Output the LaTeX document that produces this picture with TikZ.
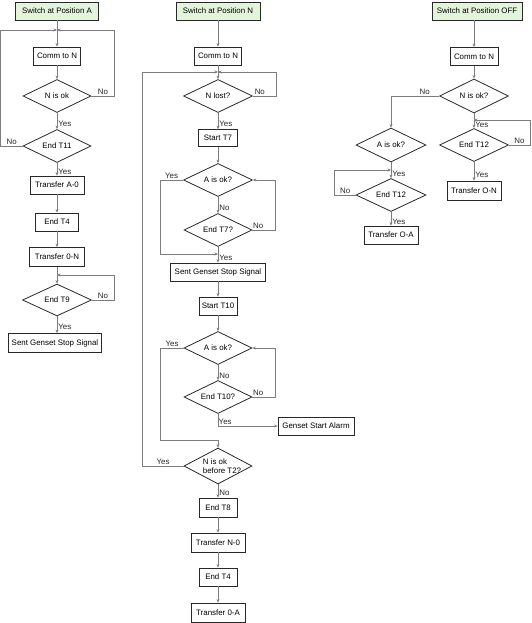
\documentclass[tikz,border=0pt]{standalone}
\usepackage{fontspec}
\setmainfont{Liberation Sans}
\usetikzlibrary{shapes.geometric,arrows.meta,calc}
\definecolor{startgreen}{RGB}{226,245,218}
\definecolor{linegray}{RGB}{125,125,125}
\definecolor{boxline}{RGB}{40,40,40}
\begin{document}
\begin{tikzpicture}[x=1pt,y=-1pt,
  font=\fontsize{7.9}{9.4}\selectfont,
  box/.style={draw=boxline, line width=0.8pt, rectangle, inner sep=0pt, minimum height=18pt},
  startbox/.style={box, fill=startgreen},
  dia/.style={draw=boxline, line width=0.8pt, diamond, aspect=2, inner sep=0pt, minimum width=68pt, minimum height=33pt},
  arr/.style={draw=linegray, line width=0.7pt, -{Stealth[length=3.5pt,width=3pt]}},
  lab/.style={inner sep=1pt, text=black!85}
]
\useasboundingbox (0,0) rectangle (532,623);

% ---------------- Column A ----------------
\node[startbox, minimum width=83pt] (sA) at (57,11) {Switch at Position A};
\coordinate (jA) at (57,30);
\node[box, minimum width=47pt] (cA) at (57,56) {Comm to N};
\node[dia] (okA) at (57,96) {N is ok};
\node[dia] (t11) at (57,146) {End T11};
\node[box, minimum width=54pt] (ta0) at (57,185) {Transfer A-0};
\node[box, minimum width=43pt] (t4a) at (57,222) {End T4};
\node[box, minimum width=55pt, minimum height=19pt] (t0n) at (57,257) {Transfer 0-N};
\coordinate (jA2) at (57,275);
\node[dia, minimum width=69pt, minimum height=32pt] (t9) at (57,300) {End T9};
\node[box, minimum width=93pt, minimum height=19pt] (stopA) at (55,343) {Sent Genset Stop Signal};

\draw[arr] (sA) -- (cA);
\draw[arr] (cA) -- (okA);
\draw[arr] (okA.east) -- node[lab,above]{No} ++(23,0) |- (jA);
\draw[arr] (okA) -- node[lab,right,pos=0.7]{Yes} (t11);
\draw[arr] (t11.west) -- node[lab,above]{No} ++(-22,0) |- (jA);
\draw[arr] (t11) -- node[lab,right,pos=0.7]{Yes} (ta0);
\draw[arr] (ta0) -- (t4a);
\draw[arr] (t4a) -- (t0n);
\draw[arr] (t0n) -- (t9);
\draw[arr] (t9.east) -- node[lab,above]{No} ++(22,0) |- (jA2);
\draw[arr] (t9.south) -- node[lab,right,pos=0.6]{Yes} (t9.south |- stopA.north);

% ---------------- Column N ----------------
\node[startbox, minimum width=84pt] (sN) at (218,11) {Switch at Position N};
\node[box, minimum width=47pt] (cN) at (218,56) {Comm to N};
\coordinate (jN) at (218,72);
\node[dia, minimum width=69pt] (lost) at (218,96) {N lost?};
\node[box, minimum width=39pt, minimum height=17pt] (t7) at (218,138) {Start T7};
\node[dia, minimum width=69pt] (aok1) at (218,180) {A is ok?};
\node[dia] (et7) at (218,230) {End T7?};
\coordinate (jN2) at (218,254);
\node[box, minimum width=95pt] (stopN) at (218,272) {Sent Genset Stop Signal};
\node[box, minimum width=38pt] (t10) at (218,306) {Start T10};
\node[dia] (aok2) at (218,348) {A is ok?};
\node[dia] (et10) at (218,397) {End T10?};
\node[box, minimum width=76pt] (alarm) at (316,426) {Genset Start Alarm};
\coordinate (jN3) at (218,440);
\node[dia, minimum height=36pt] (nok) at (218,466) {};
\node[align=left, inner sep=0pt] (nokt) at (222,466) {N is ok\\before T2?};
\node[box, minimum width=38pt, minimum height=19pt] (t8) at (218,507.5) {End T8};
\node[box, minimum width=54pt, minimum height=19pt] (tn0) at (218,542.5) {Transfer N-0};
\node[box, minimum width=38pt] (t4n) at (218,577) {End T4};
\node[box, minimum width=54pt, minimum height=19pt] (t0a) at (218,612.5) {Transfer 0-A};

\draw[arr] (sN) -- (cN);
\draw[arr] (cN) -- (lost);
\draw[arr] (lost.east) -- node[lab,above,pos=0.3]{No} ++(23,0) |- (jN);
\draw[arr] (lost) -- node[lab,right,pos=0.7]{Yes} (t7);
\draw[arr] (t7) -- (aok1);
\draw[arr] (aok1.west) -- node[lab,above]{Yes} ++(-23,0) |- (jN2);
\draw[arr] (aok1) -- node[lab,right,pos=0.7]{No} (et7);
\draw[arr] (et7.east) -- node[lab,above,pos=0.25]{No} ++(23,0) |- (aok1.east);
\draw[arr] (et7) -- node[lab,right,pos=0.7]{Yes} (stopN);
\draw[arr] (stopN) -- (t10);
\draw[arr] (t10) -- (aok2);
\draw[arr] (aok2.west) -- node[lab,above]{Yes} ++(-23,0) |- (jN3) -- (nok.north);
\draw[arr] (aok2) -- node[lab,right,pos=0.7]{No} (et10);
\draw[arr] (et10.east) -- node[lab,above,pos=0.25]{No} ++(23,0) |- (aok2.east);
\draw[arr] (et10.south) |- node[lab,above,pos=0.56]{Yes} (alarm.west);
\draw[arr] (nok.west) -- node[lab,above]{Yes} ++(-41,0) |- (jN);
\draw[arr] (nok) -- node[lab,right,pos=0.6]{No} (t8);
\draw[arr] (t8) -- (tn0);
\draw[arr] (tn0) -- (t4n);
\draw[arr] (t4n) -- (t0a);

% ---------------- Column OFF ----------------
\node[startbox, minimum width=90pt] (sO) at (477,11) {Switch at Position OFF};
\node[box, minimum width=48pt] (cO) at (474,56.5) {Comm to N};
\node[dia, minimum width=69pt, minimum height=34pt] (okO) at (474,96) {N is ok?};
\coordinate (jO) at (474,120);
\node[dia, minimum width=70pt, minimum height=34pt] (aokO) at (391,145) {A is ok?};
\coordinate (jO2) at (391,170);
\node[dia, minimum width=70pt] (t12L) at (391,195) {End T12};
\node[box, minimum width=54pt] (toa) at (391,235) {Transfer O-A};
\node[dia, minimum width=69pt] (t12R) at (474,145) {End T12};
\node[box, minimum width=54pt, minimum height=19pt] (ton) at (474,190.5) {Transfer O-N};

\draw[arr] (sO.south -| cO.north) -- (cO.north);
\draw[arr] (cO) -- (okO);
\draw[arr] (okO.west) -| node[lab,above,pos=0.15]{No} (aokO.north);
\draw[arr] (okO) -- node[lab,right,pos=0.75]{Yes} (t12R);
\draw[arr] (t12R.east) -- node[lab,above]{No} ++(21,0) |- (jO);
\draw[arr] (t12R) -- node[lab,right,pos=0.7]{Yes} (ton);
\draw[arr] (aokO) -- node[lab,right,pos=0.75]{Yes} (t12L);
\draw[arr] (t12L.west) -- node[lab,above]{No} ++(-21,0) |- (jO2);
\draw[arr] (t12L) -- node[lab,right,pos=0.7]{Yes} (toa);
\end{tikzpicture}
\end{document}
